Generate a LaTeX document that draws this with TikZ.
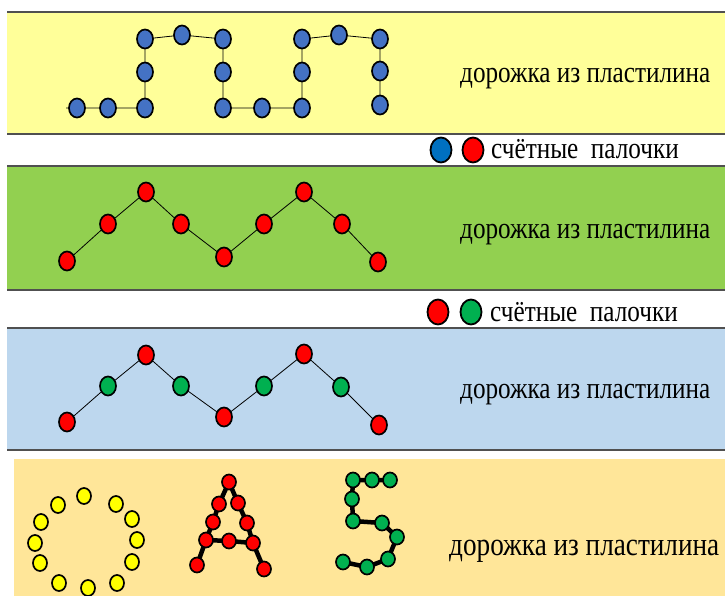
\documentclass[tikz,border=0pt]{standalone}
\usepackage{fontspec}
\setmainfont{Liberation Serif}
\usetikzlibrary{shapes.geometric}
\definecolor{bandY}{HTML}{FFFF99}
\definecolor{bandG}{HTML}{92D050}
\definecolor{bandB}{HTML}{BDD7EE}
\definecolor{bandP}{HTML}{FFE699}
\definecolor{edgecol}{HTML}{505050}
\definecolor{dotB}{HTML}{4472C4}
\definecolor{legB}{HTML}{0070C0}
\definecolor{dotR}{HTML}{FF0000}
\definecolor{dotG}{HTML}{00B050}
\definecolor{dotY}{HTML}{FFFF00}
\pgfdeclarelayer{bands}
\pgfdeclarelayer{links}
\pgfsetlayers{bands,links,main}
\newcommand{\tallt}[1]{\scalebox{1}[1.2]{#1}}
\begin{document}
\begin{tikzpicture}[x=1pt,y=-1pt,
 dot/.style={ellipse,draw=black,line width=1.7pt,inner sep=0pt,minimum width=16pt,minimum height=19pt},
 bd/.style={dot,fill=dotB},
 rd/.style={dot,fill=dotR},
 gd/.style={dot,fill=dotG},
 yd/.style={dot,fill=dotY,minimum width=14pt,minimum height=16pt},
 rs/.style={dot,fill=dotR,minimum width=14pt,minimum height=15pt},
 gs/.style={dot,fill=dotG,minimum width=14pt,minimum height=15pt},
 ld/.style={dot,line width=1.8pt,minimum width=21pt,minimum height=25pt},
 thinlink/.style={draw=black,line width=0.8pt},
 thicklink/.style={draw=black,line width=4.5pt,line join=round,line cap=round},
 lbl/.style={font=\fontsize{25.2}{30}\selectfont,anchor=base west,inner sep=0pt},
 bandedge/.style={draw=edgecol,line width=2pt}
]
\useasboundingbox (0,0) rectangle (725,596);
\begin{pgfonlayer}{bands}
\fill[bandY] (7,12) rectangle (725,134);
\draw[bandedge] (7,12) -- (725,12) (7,134) -- (725,134);
\fill[bandG] (7,166) rectangle (725,290);
\draw[bandedge] (7,166) -- (725,166) (7,290) -- (725,290);
\fill[bandB] (7,328) rectangle (725,450);
\draw[bandedge] (7,328) -- (725,328) (7,450) -- (725,450);
\fill[bandP] (14,459) rectangle (725,596);
\end{pgfonlayer}

% band 1
\coordinate (s0) at (66,108);
\node[bd] (a1) at (77,108) {};
\node[bd] (a2) at (108,108) {};
\node[bd] (a3) at (145,108) {};
\node[bd] (a4) at (145,72) {};
\node[bd] (a5) at (145,39) {};
\node[bd] (a6) at (182,35) {};
\node[bd] (a7) at (223,39) {};
\node[bd] (a8) at (223,72) {};
\node[bd] (a9) at (223,108) {};
\node[bd] (a10) at (262,108) {};
\node[bd] (a11) at (302,108) {};
\node[bd] (a12) at (302,72) {};
\node[bd] (a13) at (302,39) {};
\node[bd] (a14) at (339,35) {};
\node[bd] (a15) at (380,39) {};
\node[bd] (a16) at (380,71) {};
\node[bd] (a17) at (380,105) {};
\begin{pgfonlayer}{links}
\draw[thinlink] (s0) -- (a1.center) -- (a2.center) -- (a3.center) -- (a4.center) -- (a5.center) -- (a6.center) -- (a7.center) -- (a8.center) -- (a9.center) -- (a10.center) -- (a11.center) -- (a12.center) -- (a13.center) -- (a14.center) -- (a15.center) -- (a16.center) -- (a17.center);
\end{pgfonlayer}
\node[lbl] (t1) at (460,83) {\tallt{дорожка из пластилина}};

% legend 1
\node[ld,fill=legB] (l1a) at (441,150) {};
\node[ld,fill=dotR] (l1b) at (473,150) {};
\node[lbl] (l1t) at (491,159) {\tallt{счётные\ \ палочки}};

% band 2
\node[rd] (b1) at (67,261) {};
\node[rd] (b2) at (108,224) {};
\node[rd] (b3) at (146,192) {};
\node[rd] (b4) at (181,224) {};
\node[rd] (b5) at (224,257) {};
\node[rd] (b6) at (264,224) {};
\node[rd] (b7) at (304,192) {};
\node[rd] (b8) at (342,224) {};
\node[rd] (b9) at (378,262) {};
\begin{pgfonlayer}{links}
\draw[thinlink] (b1.center) -- (b2.center) -- (b3.center) -- (b4.center) -- (b5.center) -- (b6.center) -- (b7.center) -- (b8.center) -- (b9.center);
\end{pgfonlayer}
\node[lbl] (t2) at (460,238) {\tallt{дорожка из пластилина}};

% legend 2
\node[ld,fill=dotR] (l2a) at (438,312) {};
\node[ld,fill=dotG] (l2b) at (471,312) {};
\node[lbl] (l2t) at (490,321) {\tallt{счётные\ \ палочки}};

% band 3
\node[rd] (c1) at (67,422) {};
\node[gd] (c2) at (108,386) {};
\node[rd] (c3) at (146,355) {};
\node[gd] (c4) at (181,386) {};
\node[rd] (c5) at (224,417) {};
\node[gd] (c6) at (264,386) {};
\node[rd] (c7) at (304,354) {};
\node[gd] (c8) at (341,387) {};
\node[rd] (c9) at (379,425) {};
\begin{pgfonlayer}{links}
\draw[thinlink] (c1.center) -- (c2.center) -- (c3.center) -- (c4.center) -- (c5.center) -- (c6.center) -- (c7.center) -- (c8.center) -- (c9.center);
\end{pgfonlayer}
\node[lbl] (t3) at (460,398) {\tallt{дорожка из пластилина}};

% band 4: ring
\node[yd] (o1) at (84,496) {};
\node[yd] (o2) at (58,505) {};
\node[yd] (o3) at (116,504) {};
\node[yd] (o4) at (41,522) {};
\node[yd] (o5) at (132,519) {};
\node[yd] (o6) at (35,543) {};
\node[yd] (o7) at (137,540) {};
\node[yd] (o8) at (40,563) {};
\node[yd] (o9) at (132,562) {};
\node[yd] (o10) at (59,583) {};
\node[yd] (o11) at (88,588) {};
\node[yd] (o12) at (117,583) {};

% letter A
\node[rs] (p1) at (229,482) {};
\node[rs] (p2) at (219,504) {};
\node[rs] (p3) at (238,503) {};
\node[rs] (p4) at (213,522) {};
\node[rs] (p5) at (247,523) {};
\node[rs] (p6) at (206,540) {};
\node[rs] (p7) at (229,541) {};
\node[rs] (p8) at (253,543) {};
\node[rs] (p9) at (197,565) {};
\node[rs] (p10) at (264,569) {};
\begin{pgfonlayer}{links}
\draw[thicklink] (p9.center) -- (p6.center) -- (p4.center) -- (p2.center) -- (p1.center) -- (p3.center) -- (p5.center) -- (p8.center) -- (p10.center);
\draw[thicklink] (p6.center) -- (p7.center) -- (p8.center);
\end{pgfonlayer}

% digit 5
\node[gs] (q1) at (353,480) {};
\node[gs] (q2) at (372,480) {};
\node[gs] (q3) at (390,480) {};
\node[gs] (q4) at (352,499) {};
\node[gs] (q5) at (353,521) {};
\node[gs] (q6) at (382,523) {};
\node[gs] (q7) at (397,537) {};
\node[gs] (q8) at (388,559) {};
\node[gs] (q9) at (367,567) {};
\node[gs] (q10) at (343,562) {};
\begin{pgfonlayer}{links}
\draw[thicklink] (q3.center) -- (q2.center) -- (q1.center) -- (q4.center) -- (q5.center) -- (q6.center) -- (q7.center) -- (q8.center) -- (q9.center) -- (q10.center);
\end{pgfonlayer}
\node[lbl,font=\fontsize{27.2}{32}\selectfont] (t4) at (449,555) {\tallt{дорожка из пластилина}};
\end{tikzpicture}
\end{document}
